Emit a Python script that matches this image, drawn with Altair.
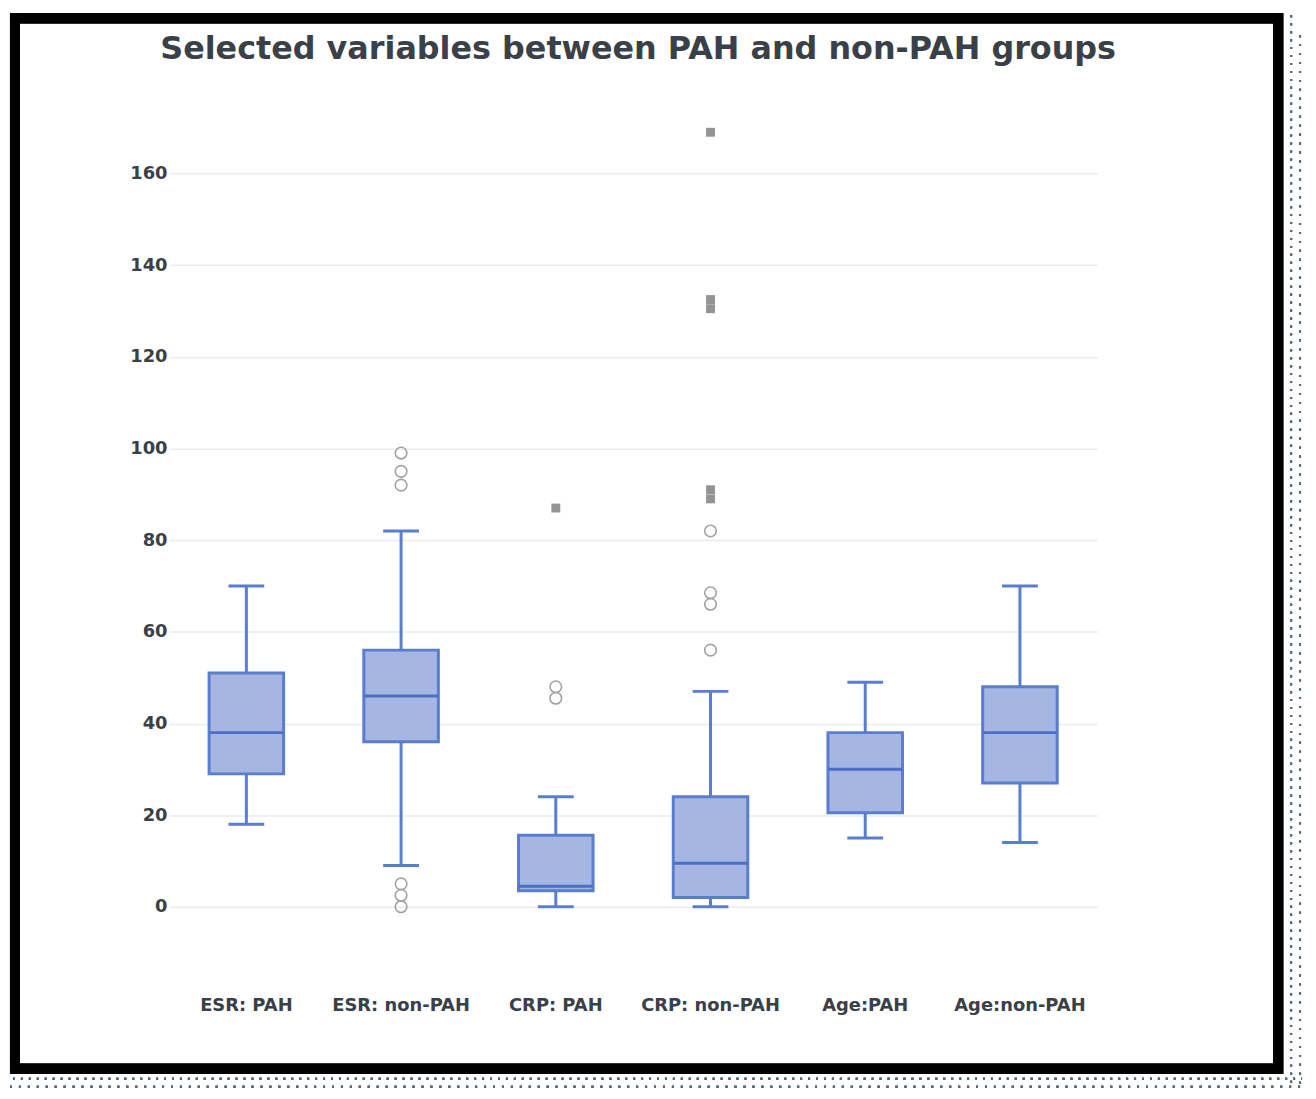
import altair as alt
import pandas as pd

title_text = ["Selected variables between PAH and non-PAH groups"]
categories = ["ESR: PAH", "ESR: non-PAH", "CRP: PAH", "CRP: non-PAH", "Age:PAH", "Age:non-PAH"]
whisker_low = [18, 9, 0, 0, 15, 14]
q1 = [29, 36, 3.5, 2, 20.5, 27]
median = [38, 46, 4.5, 9.5, 30, 38]
q3 = [51, 56, 15.6, 24, 38, 48]
whisker_high = [70, 82, 24, 47, 49, 70]

outlier_cat = ["ESR: non-PAH"] * 6 + ["CRP: PAH"] * 2 + ["CRP: non-PAH"] * 4
outlier_val = [99, 95, 92, 5, 2.5, 0, 48, 45.5, 82, 68.5, 66, 56]

extreme_cat = ["CRP: PAH"] + ["CRP: non-PAH"] * 5
extreme_val = [87, 169, 132.5, 130.5, 91, 89]

y_ticks = [0, 20, 40, 60, 80, 100, 120, 140, 160]

boxes = pd.DataFrame({
    "cat": categories, "low": whisker_low, "q1": q1,
    "med": median, "q3": q3, "high": whisker_high,
})
outliers = pd.DataFrame({"cat": outlier_cat, "val": outlier_val})
extremes = pd.DataFrame({"cat": extreme_cat, "val": extreme_val})
titles = pd.DataFrame({"t": title_text})

TXT = "#3a4047"
FONT = "DejaVu Sans"
BLUE = "#5a7dcd"

x = alt.X("cat:N", sort=categories, title=None,
          scale=alt.Scale(paddingInner=0, paddingOuter=0),
          axis=alt.Axis(labelAngle=0, ticks=False, domain=False, grid=False,
                        labelPadding=67, labelFont=FONT, labelFontSize=18,
                        labelFontWeight="bold", labelColor=TXT))
yscale = alt.Scale(domain=[-5, 175], nice=False, zero=False)
yaxis = alt.Axis(values=y_ticks, ticks=False, domain=False, grid=True,
                 gridColor="#e9ebef", gridWidth=1.5, labelPadding=2,
                 labelFont=FONT, labelFontSize=18, labelFontWeight="bold",
                 labelColor=TXT)

base = alt.Chart(boxes)

whisk = base.mark_rule(color=BLUE, strokeWidth=3).encode(
    x=x, y=alt.Y("low:Q", scale=yscale, axis=yaxis, title=None), y2="high:Q")
cap_lo = base.mark_tick(color=BLUE, size=36, thickness=3, opacity=1).encode(
    x=x, y=alt.Y("low:Q", scale=yscale))
cap_hi = base.mark_tick(color=BLUE, size=36, thickness=3, opacity=1).encode(
    x=x, y=alt.Y("high:Q", scale=yscale))
box = base.mark_bar(size=75, fill="#a4b6e1", stroke=BLUE, strokeWidth=3,
                    opacity=1).encode(
    x=x, y=alt.Y("q1:Q", scale=yscale), y2="q3:Q")
med = base.mark_tick(color="#4a6fc6", size=74, thickness=3, opacity=1).encode(
    x=x, y=alt.Y("med:Q", scale=yscale))

out = alt.Chart(outliers).mark_point(shape="circle", filled=False, size=135,
                                     color="#a2a2a2", strokeWidth=1.6,
                                     opacity=1).encode(
    x=x, y=alt.Y("val:Q", scale=yscale))
ext = alt.Chart(extremes).mark_square(size=80, color="#8d8d8d", opacity=0.95).encode(
    x=x, y=alt.Y("val:Q", scale=yscale))

title_mark = alt.Chart(titles).mark_text(
    font=FONT, fontSize=32, fontWeight="bold", color=TXT,
    align="center", baseline="middle", clip=False).encode(
    text="t:N", x=alt.value(472), y=alt.value(-56))

frame = alt.Chart(boxes).mark_rect(fill=None, stroke="#000000", strokeWidth=10,
                                   clip=False).encode(
    x=alt.value(-155), x2=alt.value(1116), y=alt.value(-87), y2=alt.value(970))

dots_v1 = alt.Chart(boxes).mark_rule(color="#5a6a7a", strokeWidth=2,
                                     strokeDash=[2, 6]).encode(
    x=alt.value(1129), y=alt.value(-90), y2=alt.value(990))
dots_v2 = alt.Chart(boxes).mark_rule(color="#5a6a7a", strokeWidth=2,
                                     strokeDash=[2, 7]).encode(
    x=alt.value(1138), y=alt.value(-70), y2=alt.value(990))
dots_h1 = alt.Chart(boxes).mark_rule(color="#5a6a7a", strokeWidth=2,
                                     strokeDash=[2, 6]).encode(
    x=alt.value(-165), x2=alt.value(1140), y=alt.value(980))
dots_h2 = alt.Chart(boxes).mark_rule(color="#5a6a7a", strokeWidth=2,
                                     strokeDash=[2, 7]).encode(
    x=alt.value(-160), x2=alt.value(1140), y=alt.value(988))

chart = alt.layer(whisk, cap_lo, cap_hi, box, med, out, ext, title_mark, frame,
                  dots_v1, dots_v2, dots_h1, dots_h2).properties(
    width=934, height=830,
    background="white",
    autosize=alt.AutoSizeParams(type="none"),
    padding={"left": 162, "top": 94, "right": 212, "bottom": 167},
).configure_view(strokeWidth=0, stroke="transparent")

chart.save("out.html", embed_options={"renderer": "svg", "actions": False})
